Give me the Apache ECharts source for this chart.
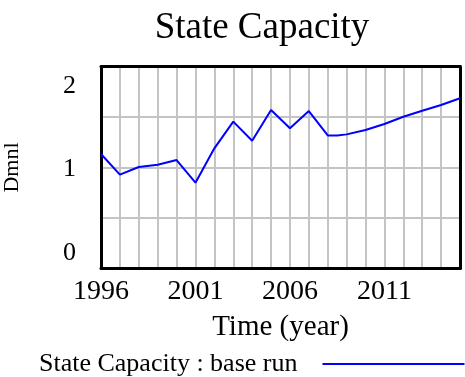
<!DOCTYPE html>
<html>
<head>
<meta charset="utf-8">
<script src="https://cdn.jsdelivr.net/npm/echarts@6/dist/echarts.min.js"></script>
<style>
  html, body { margin: 0; padding: 0; background: #fff; }
  #chart { width: 465px; height: 377px; }
</style>
</head>
<body>
<div id="chart"></div>
<script>
// Simulation output: State Capacity (Dmnl), base run
const years = [1996, 1997, 1998, 1999, 2000, 2001, 2002, 2003, 2004, 2005,
               2006, 2007, 2008, 2008.5, 2009, 2010, 2011, 2012, 2013, 2014, 2015];
const stateCapacity = [1.134, 0.929, 1.005, 1.028, 1.074, 0.85, 1.19, 1.454, 1.265, 1.569,
                       1.388, 1.559, 1.318, 1.318, 1.328, 1.371, 1.431, 1.503, 1.562, 1.619, 1.685];
const xTickLabels = [1996, 2001, 2006, 2011];
const yTickLabels = [0, 1, 2];
const seriesName = 'State Capacity : base run';

const serif = '"Liberation Serif", "DejaVu Serif", serif';
const frameLine = { show: true, onZero: false, lineStyle: { color: '#000', width: 3 } };
const gridLine = { show: true, showMinLine: false, showMaxLine: false,
                   lineStyle: { color: '#c4c4c4', width: 2 } };
const chart = echarts.init(document.getElementById('chart'));

chart.setOption({
  backgroundColor: '#ffffff',
  animation: false,
  title: {
    text: 'State Capacity',
    left: 262, top: 10, textAlign: 'center', padding: 0,
    textStyle: { fontFamily: serif, fontSize: 37, fontWeight: 'normal', color: '#000' }
  },
  legend: {
    data: [seriesName],
    left: 39, top: 351, padding: 0,
    align: 'right',
    icon: 'rect',
    itemWidth: 142, itemHeight: 2,
    textStyle: { fontFamily: serif, fontSize: 26, color: '#000', padding: [0, 20, 0, 0] }
  },
  grid: { left: 101, right: 5, top: 66.5, bottom: 108.5, containLabel: false, outerBoundsMode: 'none' },
  xAxis: [{
    type: 'value', min: 1996, max: 2015, interval: 1,
    name: 'Time (year)', nameLocation: 'middle', nameGap: 44,
    nameTextStyle: { fontFamily: serif, fontSize: 29, color: '#000' },
    axisLine: frameLine, axisTick: { show: false },
    axisLabel: {
      margin: 9, fontFamily: serif, fontSize: 28, color: '#000',
      formatter: v => xTickLabels.includes(v) ? String(v) : ''
    },
    splitLine: gridLine
  }, {
    // top edge of the frame
    type: 'value', position: 'top', min: 1996, max: 2015,
    axisLine: frameLine, axisTick: { show: false }, axisLabel: { show: false }, splitLine: { show: false }
  }],
  yAxis: [{
    type: 'value', min: 0, max: 2, interval: 0.5,
    name: 'Dmnl', nameLocation: 'middle', nameGap: 78, nameRotate: 90,
    nameTextStyle: { fontFamily: serif, fontSize: 22, color: '#000' },
    axisLine: frameLine, axisTick: { show: false },
    axisLabel: {
      margin: 25,
      formatter: v => {
        if (!yTickLabels.includes(v)) return '';
        if (v === 2) return '{top|' + v + '}';
        if (v === 0) return '{bot|' + v + '}';
        return '{mid|' + v + '}';
      },
      rich: {
        top: { fontFamily: serif, fontSize: 26, color: '#000', padding: [40, 0, 0, 0] },
        mid: { fontFamily: serif, fontSize: 26, color: '#000', padding: [3, 0, 0, 0] },
        bot: { fontFamily: serif, fontSize: 26, color: '#000', padding: [0, 0, 30, 0] }
      }
    },
    splitLine: gridLine
  }, {
    // right edge of the frame
    type: 'value', position: 'right', min: 0, max: 2,
    axisLine: frameLine, axisTick: { show: false }, axisLabel: { show: false }, splitLine: { show: false }
  }],
  series: [{
    name: seriesName,
    type: 'line',
    z: 4,
    showSymbol: false,
    symbol: 'none',
    color: '#0000ff',
    lineStyle: { color: '#0000ff', width: 2 },
    data: years.map((y, i) => [y, stateCapacity[i]])
  }]
});
</script>
</body>
</html>
